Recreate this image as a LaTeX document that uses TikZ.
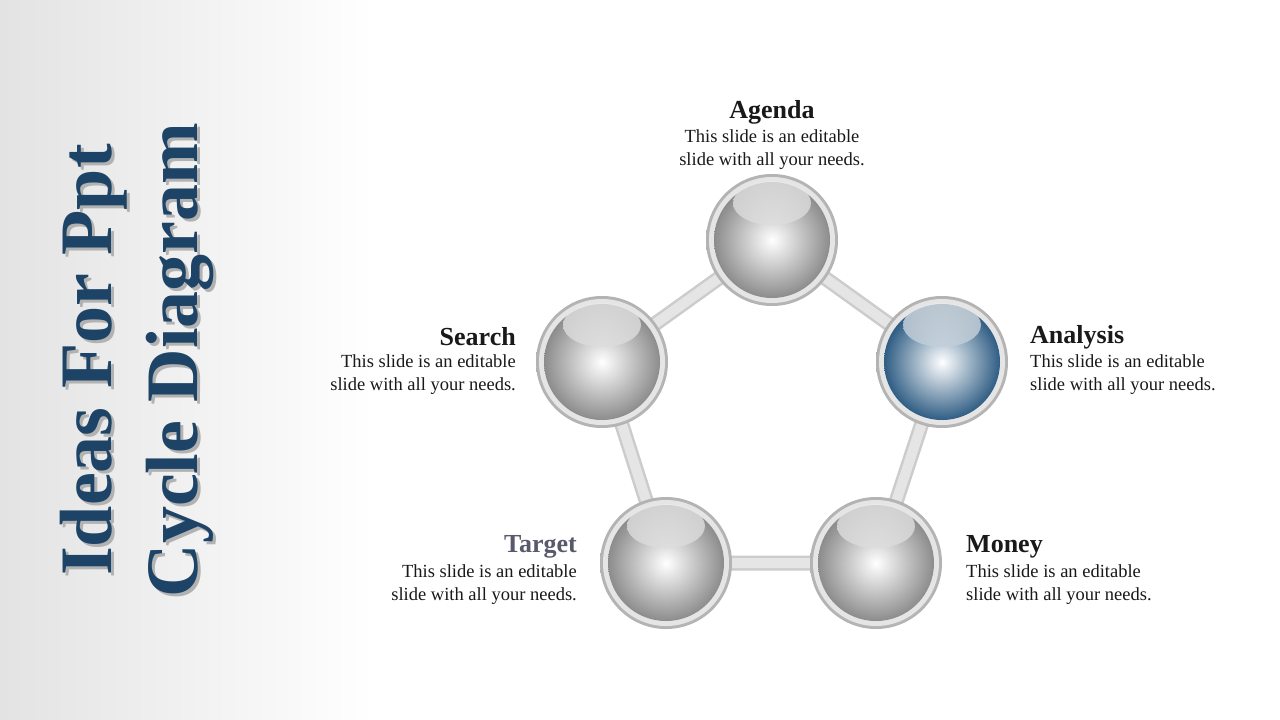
\documentclass[tikz,border=0pt]{standalone}
\usepackage{fontspec}
\setmainfont{Liberation Serif}
\usetikzlibrary{calc}
\definecolor{ttl}{HTML}{1D4466}
\definecolor{bluek}{HTML}{2F5D84}
\tikzset{
  bar/.style={line width=15pt, draw=black!20},
  barin/.style={line width=10pt, draw=black!10},
  hd/.style={font=\fontsize{26}{28}\selectfont\bfseries, text=black!90, inner sep=0},
  bd/.style={font=\fontsize{18.5}{23}\selectfont, text=black!90, inner sep=0},
}
\newcommand{\sph}[3]{%
  \shade[inner color=black!8, outer color=black!30] (#1) circle (66);
  \fill[white!90!black] (#1) circle (63);
  \shade[inner color=white, outer color=#3, shading=radial] (#1) circle (58);
  \shade[top color=white!92!black, bottom color=white!70!#3, opacity=0.75] ($(#1)+(0,-37)$) ellipse (39 and 22);
  \node[inner sep=0, minimum size=132pt, circle] (#2) at (#1) {};
}
\begin{document}
\begin{tikzpicture}[x=1pt,y=-1pt]
\useasboundingbox (0,0) rectangle (1280,720);
\fill[white] (0,0) rectangle (1280,720);
\shade[left color=black!11, right color=white] (0,0) rectangle (375,720);
% title
\node[rotate=90, font=\fontsize{74}{86}\selectfont\bfseries, text=black!30, align=center] at (140,363) {Ideas For Ppt\\Cycle Diagram};
\node[rotate=90, font=\fontsize{74}{86}\selectfont\bfseries, text=ttl, align=center] (title) at (137,360) {Ideas For Ppt\\Cycle Diagram};
% connectors
\coordinate (pA) at (772,240);
\coordinate (pB) at (942,362);
\coordinate (pC) at (876,563);
\coordinate (pD) at (666,563);
\coordinate (pE) at (602,362);
\draw[bar] (pA)--(pB)--(pC)--(pD)--(pE)--cycle;
\draw[barin] (pA)--(pB)--(pC)--(pD)--(pE)--cycle;
\sph{pA}{agenda}{black!45}
\sph{pB}{analysis}{bluek}
\sph{pC}{money}{black!45}
\sph{pD}{target}{black!45}
\sph{pE}{search}{black!45}
% texts
\node[hd] (t1) at (772,112) {Agenda};
\node[bd, align=center] (b1) at (772,150) {This slide is an editable\\slide with all your needs.};
\node[hd, anchor=east] (t5) at (516,337) {Search};
\node[bd, align=right, anchor=north east] (b5) at (516,354) {This slide is an editable\\slide with all your needs.};
\node[hd, anchor=west] (t2) at (1030,337) {Analysis};
\node[bd, align=left, anchor=north west] (b2) at (1030,354) {This slide is an editable\\slide with all your needs.};
\node[hd, anchor=west] (t3) at (966,547) {Money};
\node[bd, align=left, anchor=north west] (b3) at (966,564) {This slide is an editable\\slide with all your needs.};
\node[hd, anchor=east, text=black!75!blue!30!gray] (t4) at (577,547) {Target};
\node[bd, align=right, anchor=north east] (b4) at (577,564) {This slide is an editable\\slide with all your needs.};
\end{tikzpicture}
\end{document}
